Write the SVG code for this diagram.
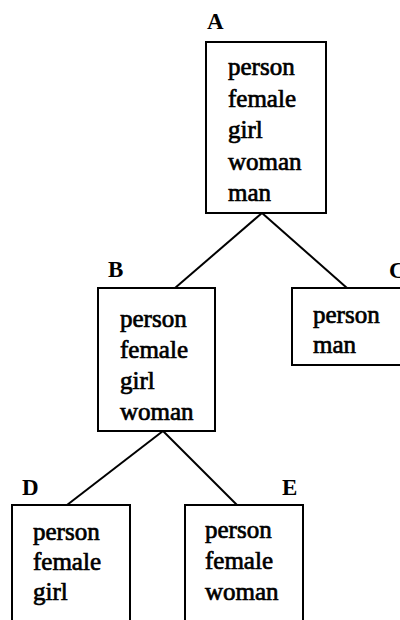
<svg xmlns="http://www.w3.org/2000/svg" width="400" height="620" viewBox="0 0 400 620">
<style>
.box{fill:#fff;stroke:#000;stroke-width:2}
.t{font-family:"Liberation Serif","Times New Roman",serif;font-size:25px;fill:#000;stroke:#000;stroke-width:0.7}
.lbl{font-family:"Liberation Serif","Times New Roman",serif;font-size:23px;font-weight:bold;fill:#000}
.conn line{stroke:#000;stroke-width:2}
</style>
<rect width="400" height="620" fill="#fff"/>
<g class="conn" id="connectors">
<line x1="262" y1="213" x2="175" y2="288"/>
<line x1="262" y1="213" x2="347" y2="288"/>
<line x1="163" y1="431" x2="67" y2="505"/>
<line x1="163" y1="431" x2="237" y2="505"/>
</g>
<g id="A">
<text class="lbl" x="207" y="29">A</text>
<rect class="box" x="206" y="42" width="120" height="171"/>
<text class="t" x="228" y="75">person</text>
<text class="t" x="228" y="107">female</text>
<text class="t" x="228" y="138">girl</text>
<text class="t" x="228" y="170">woman</text>
<text class="t" x="228" y="201">man</text>
</g>
<g id="B">
<text class="lbl" x="108" y="277">B</text>
<rect class="box" x="98" y="288" width="117" height="143"/>
<text class="t" x="120" y="327">person</text>
<text class="t" x="120" y="358">female</text>
<text class="t" x="120" y="389">girl</text>
<text class="t" x="120" y="420">woman</text>
</g>
<g id="C">
<text class="lbl" x="389" y="278">C</text>
<rect class="box" x="292" y="288" width="120" height="77"/>
<text class="t" x="313" y="323">person</text>
<text class="t" x="313" y="353">man</text>
</g>
<g id="D">
<text class="lbl" x="22" y="495">D</text>
<rect class="box" x="12" y="505" width="118" height="130"/>
<text class="t" x="33" y="540">person</text>
<text class="t" x="33" y="570">female</text>
<text class="t" x="33" y="600">girl</text>
</g>
<g id="E">
<text class="lbl" x="282" y="495">E</text>
<rect class="box" x="185" y="505" width="118" height="130"/>
<text class="t" x="205" y="538">person</text>
<text class="t" x="205" y="569">female</text>
<text class="t" x="205" y="600">woman</text>
</g>
</svg>
